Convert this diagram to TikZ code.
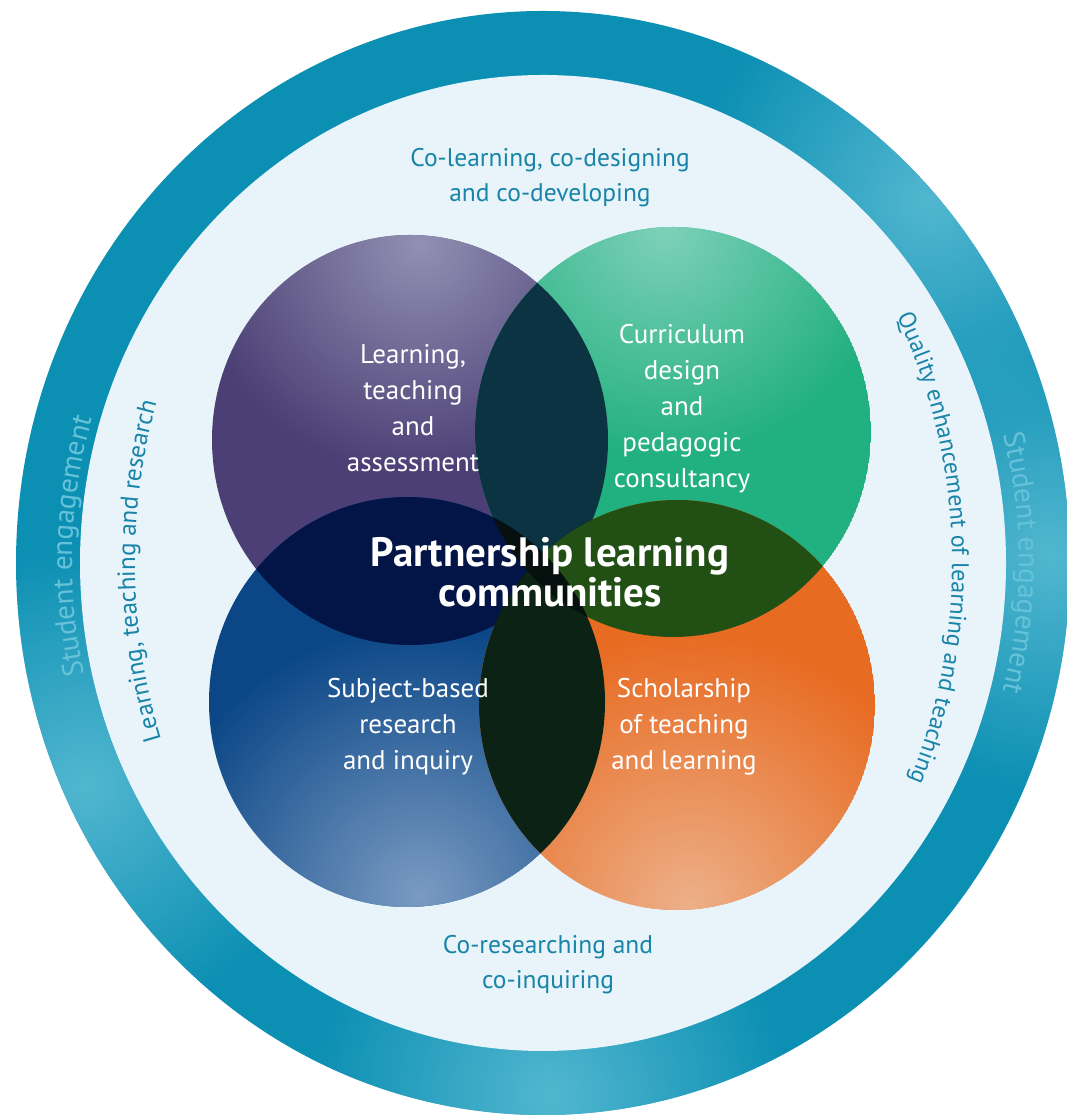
\documentclass[tikz,border=0pt]{standalone}
\usepackage{fontspec}
\setmainfont{PT Sans}
\usetikzlibrary{decorations.text,fadings}
\tikzfading[name=glowfade, inner color=transparent!0, outer color=transparent!100]

\definecolor{ringblue}{HTML}{0B8FB3}
\definecolor{ringlight}{HTML}{52B7D0}
\definecolor{paleblue}{HTML}{E8F4F9}
\definecolor{inktext}{HTML}{1884A8}
\definecolor{engtext}{HTML}{66C2D9}
\definecolor{plum}{HTML}{4B3F75}
\definecolor{plumlight}{HTML}{9290B3}
\definecolor{mint}{HTML}{21B07F}
\definecolor{mintlight}{HTML}{7ED1B8}
\definecolor{navy}{HTML}{0B4787}
\definecolor{navylight}{HTML}{7A9BC2}
\definecolor{tang}{HTML}{E86B22}
\definecolor{tanglight}{HTML}{EDB089}
\definecolor{pgover}{HTML}{0B3342}
\definecolor{pbover}{HTML}{031546}
\definecolor{goover}{HTML}{224F14}
\definecolor{boover}{HTML}{0B2214}
\definecolor{midover}{HTML}{06110F}

\begin{document}
\begin{tikzpicture}[x=1pt,y=1pt,
  circlabel/.style={text=white, align=center, font=\fontsize{27}{36}\selectfont},
  ringlabel/.style={text=inktext, align=center, font=\fontsize{25.5}{35}\selectfont},
  glow/.style={path fading=glowfade}]
\useasboundingbox (0,0) rectangle (1066,1115);

\coordinate (C) at (543,552);
\coordinate (lta) at (410,675);
\coordinate (cur) at (673,683);
\coordinate (sbr) at (407,413);
\coordinate (sotl) at (677,410);

% outer ring
\fill[ringblue] (C) ellipse (527 and 552);
\begin{scope}
\clip (C) ellipse (527 and 552);
\foreach \p in {(930,915),(1050,560),(85,330),(550,20)}
    \fill[ringlight, glow] \p circle (240);
\end{scope}
\fill[paleblue] (C) ellipse (463 and 488);

% the four circles
\begin{scope}
\clip (lta) ellipse (198 and 205);
\fill[plum] (lta) ellipse (198 and 205);
\fill[plumlight, glow] (420,870) circle (230);
\end{scope}
\begin{scope}
\clip (cur) ellipse (198 and 205);
\fill[mint] (cur) ellipse (198 and 205);
\fill[mintlight, glow] (665,885) circle (230);
\end{scope}
\begin{scope}
\clip (sbr) ellipse (198 and 205);
\fill[navy] (sbr) ellipse (198 and 205);
\fill[navylight, glow] (420,220) circle (270);
\end{scope}
\begin{scope}
\clip (sotl) ellipse (198 and 205);
\fill[tang] (sotl) ellipse (198 and 205);
\fill[tanglight, glow] (690,210) circle (270);
\end{scope}

% overlaps
\begin{scope}
\clip (lta) ellipse (198 and 205);
\fill[pgover] (cur) ellipse (198 and 205);
\fill[pbover] (sbr) ellipse (198 and 205);
\fill[midover] (sotl) ellipse (198 and 205);
\end{scope}
\begin{scope}
\clip (sotl) ellipse (198 and 205);
\fill[goover] (cur) ellipse (198 and 205);
\fill[boover] (sbr) ellipse (198 and 205);
\end{scope}
\begin{scope}
\clip (cur) ellipse (198 and 205);
\clip (sbr) ellipse (198 and 205);
\fill[midover] (cur) ellipse (198 and 205);
\end{scope}

% labels
\node[circlabel] (ltaText) at (413,707) {Learning,\\teaching\\and\\assessment};
\node[circlabel] (curText) at (682,706) {Curriculum\\design\\and\\pedagogic\\consultancy};
\node[circlabel] (sbrText) at (408,388) {Subject-based\\research\\and inquiry};
\node[circlabel] (sotlText) at (684,388) {Scholarship\\of teaching\\and learning};
\node[text=white, align=center, font=\bfseries\fontsize{41}{40}\selectfont] (plc) at (550,543)
    {Partnership learning\\communities};
\node[ringlabel] (topText) at (550,937) {Co-learning, co-designing\\and co-developing};
\node[ringlabel] (botText) at (548,150) {Co-researching and\\co-inquiring};

% curved texts
\begin{scope}[shift={(C)}]
\path[decorate, decoration={text along path, text align=center, text color=engtext,
    text={|\fontsize{29}{29}\selectfont|Student engagement}}]
    (208:471 and 495) arc[start angle=208, end angle=148, x radius=471, y radius=495];
\path[decorate, decoration={text along path, text align=center, text color=engtext,
    text={|\fontsize{29}{29}\selectfont|Student engagement}}]
    (30:476 and 500) arc[start angle=30, end angle=-30, x radius=476, y radius=500];
\path[decorate, decoration={text along path, text align=center, text color=inktext,
    text={|\fontsize{25}{25}\selectfont|Learning, teaching and research}}]
    (216:408 and 500) arc[start angle=216, end angle=146, x radius=408, y radius=500];
\path[decorate, decoration={text along path, text align=center, text color=inktext,
    text={|\fontsize{24}{24}\selectfont|Quality enhancement of learning and teaching}}]
    (50:409 and 490) arc[start angle=50, end angle=-46, x radius=409, y radius=490];
\end{scope}
\end{tikzpicture}
\end{document}
